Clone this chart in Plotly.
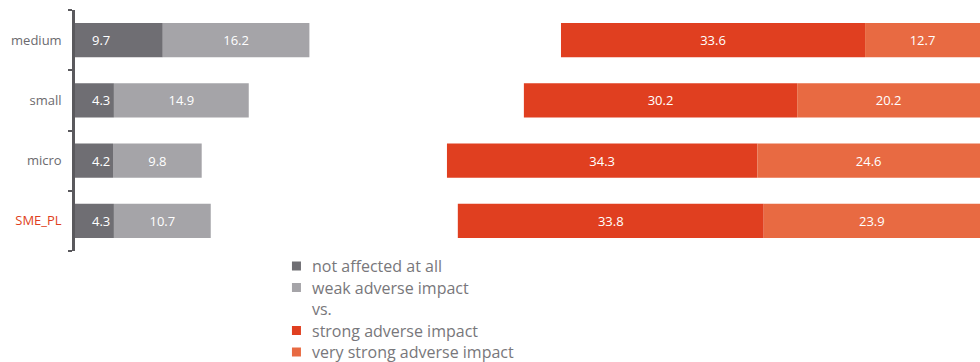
import plotly.graph_objects as go

# Firm-size groups, top to bottom
categories = ["medium", "small", "micro", "SME_PL"]

# Share of firms (%) by degree of impact
not_affected = [9.7, 4.3, 4.2, 4.3]
weak_adverse = [16.2, 14.9, 9.8, 10.7]
strong_adverse = [33.6, 30.2, 34.3, 33.8]
very_strong_adverse = [12.7, 20.2, 24.6, 23.9]

legend_labels = ["not affected at all", "weak adverse impact", "vs.",
                 "strong adverse impact", "very strong adverse impact"]

C_DARK = "#6f6e73"
C_LIGHT = "#a5a4a8"
C_RED = "#e03f20"
C_ORANGE = "#e86a42"
FONT = "Open Sans"
SCALE_MAX = 100

# the adverse-impact block is right-aligned against the end of the scale
right_base = [SCALE_MAX - (s + v) for s, v in zip(strong_adverse, very_strong_adverse)]

fig = go.Figure()

def fmt(vals):
    return [f"{v:.1f}" for v in vals]

common = dict(orientation="h", y=categories, width=0.57,
              marker_line_width=0, hoverinfo="x+y")
text_kw = dict(textfont=dict(family=FONT, size=13, color="white"),
               insidetextanchor="middle", textposition="inside")

fig.add_trace(go.Bar(x=not_affected, base=[0] * 4, marker_color=C_DARK,
                     name=legend_labels[0], **common))
fig.add_trace(go.Bar(x=weak_adverse, base=not_affected, marker_color=C_LIGHT,
                     text=fmt(weak_adverse), name=legend_labels[1], **common, **text_kw))
fig.add_trace(go.Bar(x=strong_adverse, base=right_base, marker_color=C_RED,
                     text=fmt(strong_adverse), name=legend_labels[3], **common, **text_kw))
fig.add_trace(go.Bar(x=very_strong_adverse,
                     base=[b + s for b, s in zip(right_base, strong_adverse)],
                     marker_color=C_ORANGE, text=fmt(very_strong_adverse),
                     name=legend_labels[4], **common, **text_kw))

annotations = []
# values of the darkest segment sit near the start of the bar
for cat, v in zip(categories, not_affected):
    annotations.append(dict(x=0, y=cat, xref="x", yref="y", text=f"{v:.1f}",
                            xanchor="left", xshift=15, showarrow=False,
                            font=dict(family=FONT, size=13, color="white")))

# legend block below the bars
legend_colors = [C_DARK, C_LIGHT, None, C_RED, C_ORANGE]
plot_top, plot_bottom = 10, 251
plot_h = plot_bottom - plot_top
shapes = []
for i, (lab, col) in enumerate(zip(legend_labels, legend_colors)):
    ypx = 266 + i * 21.5
    yp = (plot_bottom - ypx) / plot_h
    annotations.append(dict(x=0.2597, y=yp, xref="paper", yref="paper", text=lab,
                            xanchor="left", yanchor="middle", showarrow=False,
                            font=dict(family=FONT, size=16, color="#78777b")))
    if col:
        shapes.append(dict(type="rect", xref="paper", yref="paper",
                           xsizemode="pixel", ysizemode="pixel",
                           xanchor=0.2447, yanchor=yp, x0=-4.5, x1=4.5, y0=-4.5, y1=4.5,
                           fillcolor=col, line_width=0))

fig.update_layout(
    width=980, height=362,
    margin=dict(l=75, r=0, t=plot_top, b=362 - plot_bottom),
    barmode="overlay",
    showlegend=False,
    plot_bgcolor="white", paper_bgcolor="white",
    annotations=annotations, shapes=shapes,
    font=dict(family=FONT),
)
fig.update_xaxes(range=[0, SCALE_MAX], visible=False, fixedrange=True)
fig.update_yaxes(
    categoryorder="array", categoryarray=categories, autorange="reversed",
    showline=True, linecolor="#5a595d", linewidth=2.5,
    ticks="outside", tickson="boundaries", ticklen=4, tickwidth=2, tickcolor="#5a595d",
    showgrid=False, zeroline=False, ticklabelstandoff=8,
    tickfont=dict(family=FONT, size=13, color="#6b6a6e"),
    tickvals=categories,
    ticktext=[c if c != "SME_PL" else f"<span style='color:{C_RED}'>{c}</span>" for c in categories],
)

fig.write_html("out.html")
